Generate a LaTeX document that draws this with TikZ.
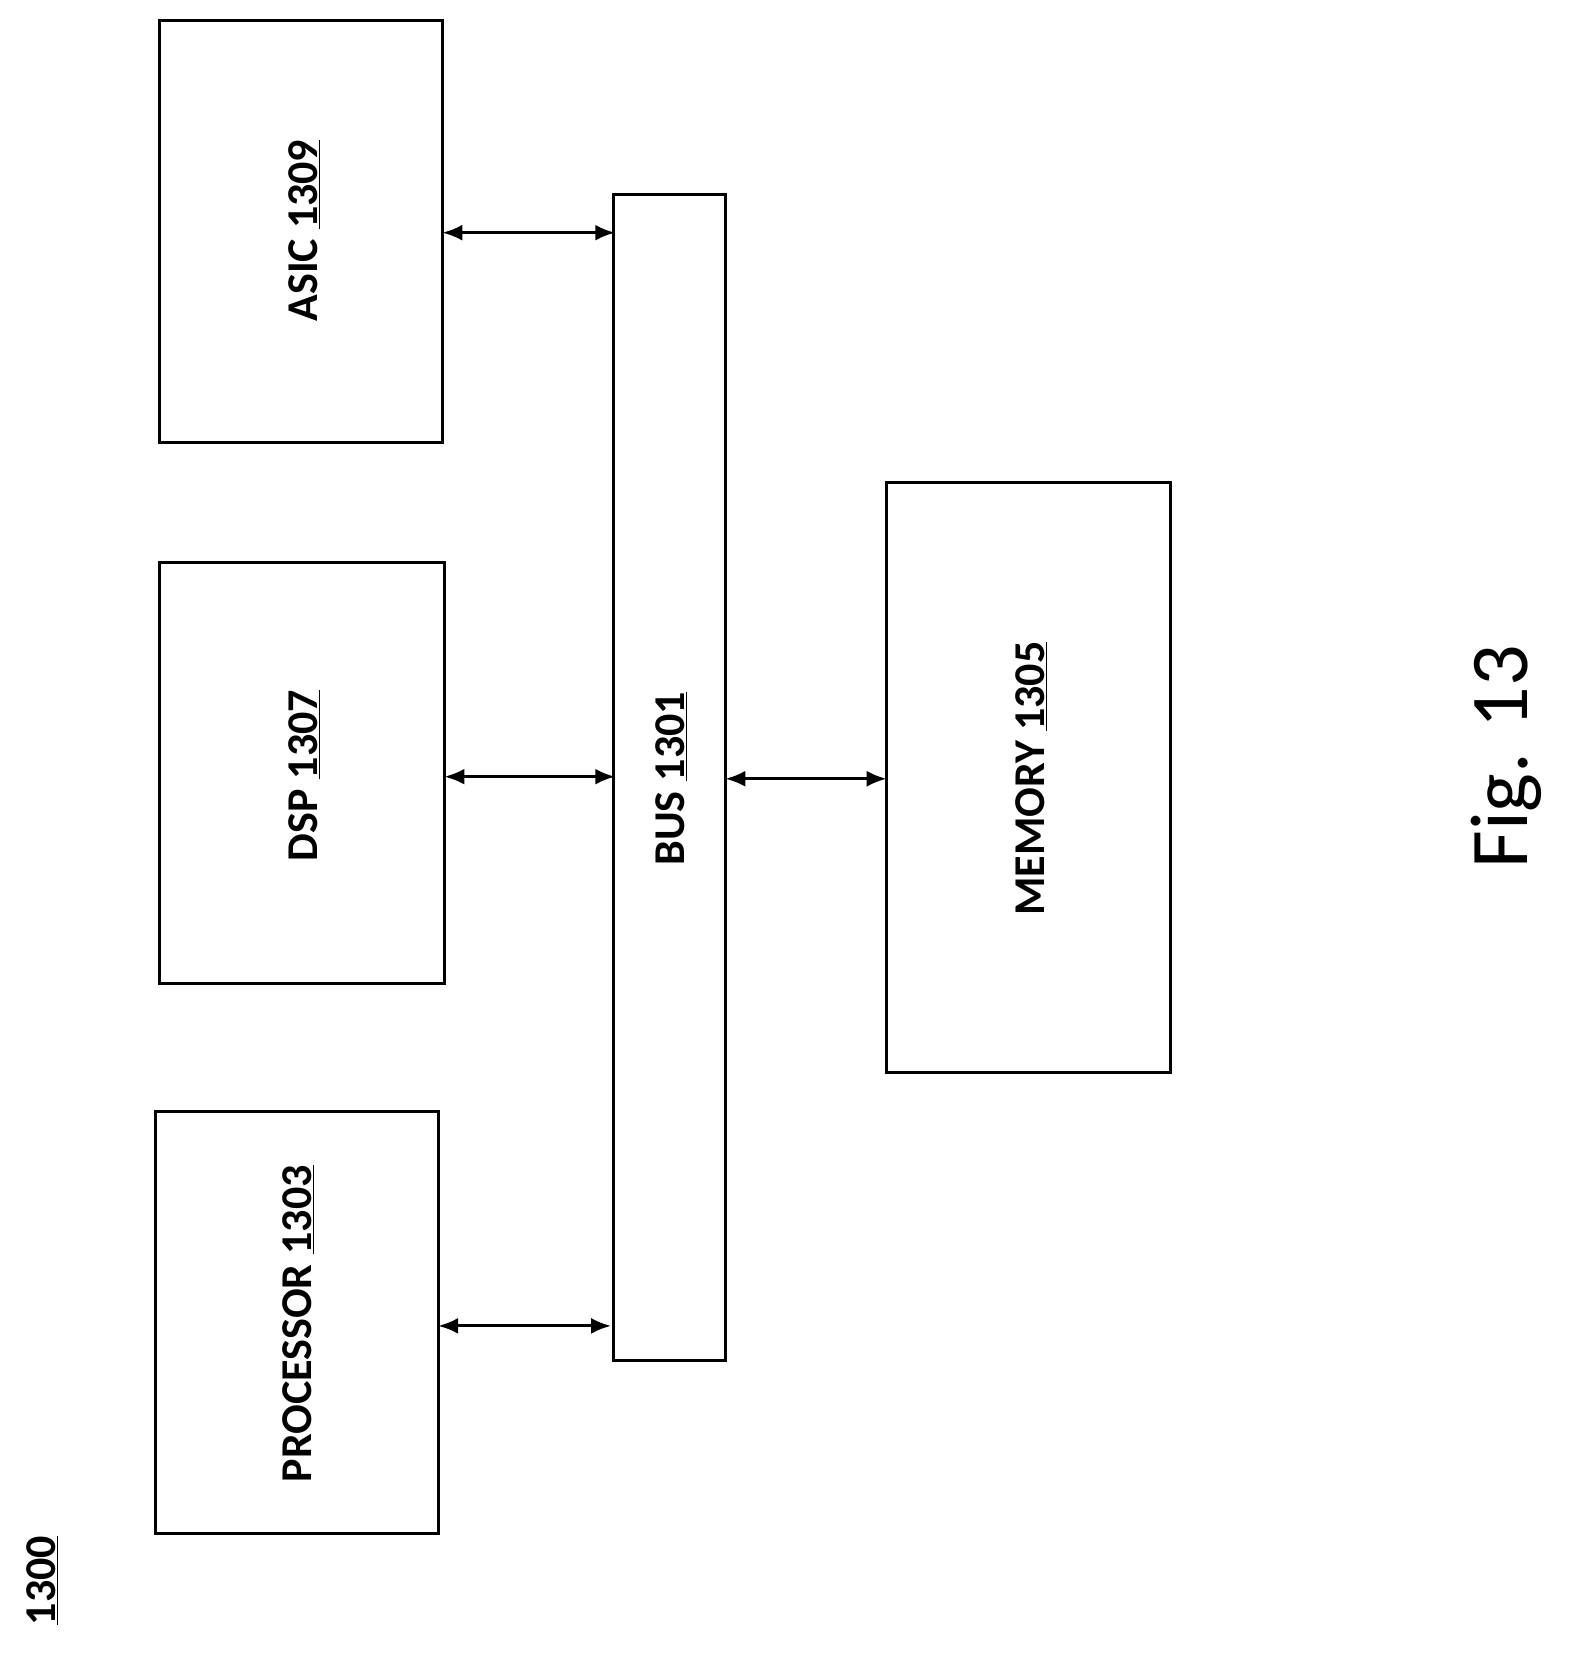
\documentclass[tikz,border=0pt]{standalone}
\usepackage{fontspec}
\setmainfont{Carlito}
\usetikzlibrary{arrows.meta}
\begin{document}
\begin{tikzpicture}[x=1.048pt,y=-1.048pt,
  box/.style={draw,line width=3pt},
  lbl/.style={rotate=90,font=\fontsize{44}{48}\selectfont\bfseries,inner sep=0},
  arr/.style={line width=3pt,{Latex[length=20pt,width=16pt]}-{Latex[length=20pt,width=16pt]}}]
\useasboundingbox (0,0) rectangle (1500,1579);
\draw[box] (152,20) rectangle (422,422);
\draw[box] (152,537) rectangle (424,938);
\draw[box] (148,1060) rectangle (418,1463);
\draw[box] (585,186) rectangle (692,1298);
\draw[box] (846,460) rectangle (1117,1023);
\node[lbl] (asic) at (290,220) {ASIC \underline{1309}};
\node[lbl] (dsp) at (290,740) {DSP \underline{1307}};
\node[lbl] (proc) at (285,1263) {PROCESSOR \underline{1303}};
\node[lbl] (bus) at (640,743) {BUS \underline{1301}};
\node[lbl] (mem) at (984,743) {MEMORY \underline{1305}};
\node[lbl] (n1300) at (40,1508) {\underline{1300}};
\node[rotate=90,font=\fontsize{82}{90}\selectfont,inner sep=0] (fig) at (1437,722) {Fig. 13};
\coordinate (a1) at (422,222); \coordinate (a2) at (587,222);
\coordinate (d1) at (424,741); \coordinate (d2) at (587,741);
\coordinate (p1) at (418,1265); \coordinate (p2) at (583,1265);
\coordinate (m1) at (692,743); \coordinate (m2) at (846,743);
\draw[arr] (a1) -- (a2);
\draw[arr] (d1) -- (d2);
\draw[arr] (p1) -- (p2);
\draw[arr] (m1) -- (m2);
\end{tikzpicture}
\end{document}
